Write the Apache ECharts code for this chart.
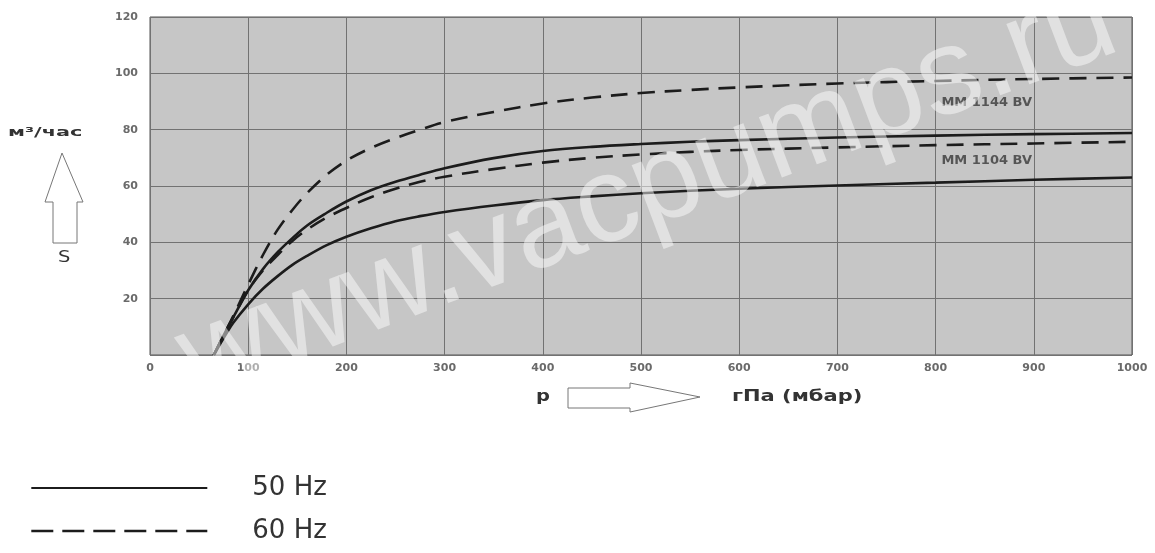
<!DOCTYPE html>
<html>
<head>
<meta charset="utf-8">
<script src="https://cdn.jsdelivr.net/npm/echarts@6/dist/echarts.min.js"></script>
<style>
  html, body { margin: 0; padding: 0; background: #ffffff; }
  #chart { width: 1155px; height: 553px; }
</style>
</head>
<body>
<div id="chart"></div>
<script>
// Pressure, hPa (mbar)
const pressure = [65, 75, 85, 100, 115, 130, 145, 160, 180, 200, 225, 250, 275, 300, 350, 400, 450, 500, 550, 600, 700, 800, 900, 1000];
// Pumping speed S, m3/h
const mm1144_60 = [0, 7, 14, 25, 35.5, 44.5, 51.5, 57.5, 64, 69, 73.5, 77, 80, 82.7, 86.3, 89.3, 91.4, 93, 94.1, 95, 96.4, 97.3, 98, 98.5];
const mm1144_50 = [0, 7, 13.5, 23, 30.5, 36.5, 41.5, 46, 50.5, 54.5, 58.5, 61.5, 64, 66.3, 69.9, 72.4, 73.9, 74.9, 75.7, 76.3, 77.2, 77.9, 78.4, 78.8];
const mm1104_60 = [0, 7, 13.5, 23, 30, 35.5, 40.5, 44.5, 48.8, 52.2, 56, 59, 61.5, 63.3, 66, 68.3, 70, 71.2, 72.1, 72.8, 73.7, 74.5, 75.1, 75.7];
const mm1104_50 = [0, 6, 11.5, 18, 23.5, 28, 32, 35.2, 39, 42, 45, 47.5, 49.3, 50.8, 53.1, 55, 56.3, 57.4, 58.3, 59, 60.2, 61.2, 62.2, 63];

const xTicks = [0, 100, 200, 300, 400, 500, 600, 700, 800, 900, 1000];
const yTicks = [20, 40, 60, 80, 100, 120];
const legendNames = ['50 Hz', '60 Hz'];
const curveNames = ['MM 1144 BV', 'MM 1104 BV'];
// label anchors in data units [pressure, speed]
const curveLabelAnchors = [[852, 89.6], [852, 69]];

function pairs(vals) { return pressure.map((p, i) => [p, vals[i]]); }

const chart = echarts.init(document.getElementById('chart'), null, { renderer: 'canvas' });

const lineColor = '#1c1c1c';
const dash = [17, 10];
const labelFont = 'DejaVu Sans, Liberation Sans, sans-serif';

function curveSeries(name, vals, dashed, labelIdx) {
  const s = {
    name: name,
    type: 'line',
    data: pairs(vals),
    smooth: 0.35,
    symbol: 'none',
    lineStyle: { color: lineColor, width: 2.6, type: dashed ? dash : 'solid' },
    itemStyle: { color: lineColor },
    z: 3
  };
  if (labelIdx !== undefined) {
    s.markPoint = {
      symbol: 'circle',
      symbolSize: 0,
      silent: true,
      label: {
        show: true,
        position: 'inside',
        formatter: curveNames[labelIdx],
        color: '#555',
        fontSize: 13,
        fontWeight: 'bold',
        fontFamily: labelFont
      },
      data: [{ coord: curveLabelAnchors[labelIdx] }]
    };
  }
  return s;
}

const option = {
  backgroundColor: '#ffffff',
  animation: false,
  grid: {
    left: 150, right: 23, top: 17, bottom: 198,
    show: true,
    backgroundColor: '#c6c6c6',
    borderColor: '#555555',
    borderWidth: 1
  },
  xAxis: {
    type: 'value',
    min: 0, max: 1000, interval: 100,
    axisLine: { show: false },
    axisTick: { show: false },
    splitLine: { show: true, lineStyle: { color: '#727272', width: 1 } },
    axisLabel: {
      color: '#6a6a6a', fontSize: 11, margin: 8, fontWeight: 'bold',
      fontFamily: labelFont,
      formatter: v => xTicks.includes(v) ? String(v) : ''
    }
  },
  yAxis: {
    type: 'value',
    min: 0, max: 120, interval: 20,
    axisLine: { show: false },
    axisTick: { show: false },
    splitLine: { show: true, lineStyle: { color: '#727272', width: 1 } },
    axisLabel: {
      color: '#6a6a6a', fontSize: 11, margin: 12, fontWeight: 'bold',
      fontFamily: labelFont,
      formatter: v => yTicks.includes(v) ? String(v) : ''
    }
  },
  legend: {
    orient: 'vertical',
    left: 25, top: 470,
    itemWidth: 176, itemHeight: 14, itemGap: 17,
    data: [
      { name: legendNames[0] },
      { name: legendNames[1], lineStyle: { type: [22, 9], width: 2.6 } }
    ],
    itemStyle: { color: 'rgba(0,0,0,0)', borderColor: 'rgba(0,0,0,0)', borderWidth: 0 },
    textStyle: {
      fontSize: 26, color: '#333',
      fontFamily: 'DejaVu Sans, Open Sans, sans-serif',
      padding: [0, 0, 0, 40]
    }
  },
  series: [
    curveSeries(legendNames[1], mm1144_60, true, 0),
    curveSeries(legendNames[0], mm1144_50, false),
    curveSeries(legendNames[1], mm1104_60, true, 1),
    curveSeries(legendNames[0], mm1104_50, false)
  ],
  graphic: [
    { type: 'text', x: 8, y: 133, scaleX: 1.6, z: 10,
      style: { text: 'м³/час', fill: '#333', fontSize: 13, fontWeight: 'bold', fontFamily: labelFont, verticalAlign: 'middle' } },
    { type: 'polygon', z: 10,
      shape: { points: [[62, 153], [83, 202], [77, 202], [77, 243], [53, 243], [53, 202], [45, 202]] },
      style: { fill: '#ffffff', stroke: '#777', lineWidth: 1 } },
    { type: 'text', x: 58, y: 258, scaleX: 1.3, z: 10,
      style: { text: 'S', fill: '#333', fontSize: 15, fontFamily: labelFont, verticalAlign: 'middle' } },
    { type: 'text', x: 536, y: 397, scaleX: 1.3, z: 10,
      style: { text: 'p', fill: '#333', fontSize: 15, fontWeight: 'bold', fontFamily: labelFont, verticalAlign: 'middle' } },
    { type: 'polygon', z: 10,
      shape: { points: [[568, 388], [630, 388], [630, 383], [700, 397], [630, 412], [630, 408], [568, 408]] },
      style: { fill: '#ffffff', stroke: '#777', lineWidth: 1 } },
    { type: 'text', x: 732, y: 397, scaleX: 1.4, z: 10,
      style: { text: 'гПа (мбар)', fill: '#333', fontSize: 15, fontWeight: 'bold', fontFamily: labelFont, verticalAlign: 'middle' } },
    { type: 'text', x: 648, y: 192, rotation: 0.36, z: 20, silent: true,
      style: { text: 'www.vacpumps.ru', fill: 'rgba(255,255,255,0.48)', fontSize: 122,
               fontFamily: 'Liberation Sans, Arial, sans-serif', align: 'center', verticalAlign: 'middle' } }
  ]
};

chart.setOption(option);
</script>
</body>
</html>
